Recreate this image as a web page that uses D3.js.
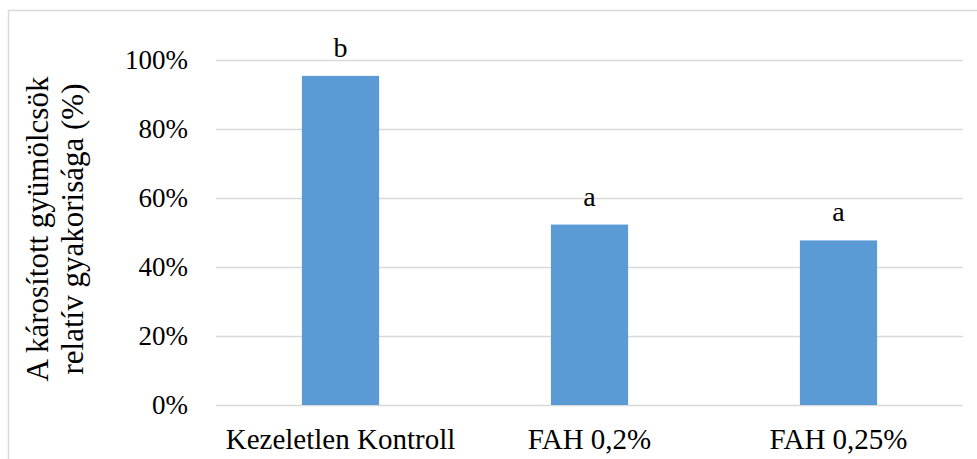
<!DOCTYPE html>
<html>
<head>
<meta charset="utf-8">
<script src="https://cdn.jsdelivr.net/npm/d3@7"></script>
<style>
  html, body { margin: 0; padding: 0; background: #fff; }
  svg { display: block; }
</style>
</head>
<body>
<svg id="chart" width="977" height="459"></svg>
<script>
// Treatments and the share of damaged fruitlets (%)
const categories = ["Kezeletlen Kontroll", "FAH 0,2%", "FAH 0,25%"];
const values = [95.4, 52.3, 47.7];
const letters = ["b", "a", "a"];
const yTicks = [0, 20, 40, 60, 80, 100];
const yTitle = ["A károsított gyümölcsök", "relatív gyakorisága (%)"];

const W = 977, H = 459;
const plot = { left: 216, right: 963, top: 60, bottom: 405 };
const serif = "'Liberation Serif', 'Times New Roman', Tinos, 'DejaVu Serif', serif";

const svg = d3.select("#chart");

// chart frame (open at right and bottom)
svg.append("rect")
  .attr("x", 8.5).attr("y", 10.5)
  .attr("width", W + 20).attr("height", H + 20)
  .attr("fill", "none")
  .attr("stroke", "#d9d9d9")
  .attr("stroke-width", 1.5);

const x = d3.scaleBand()
  .domain(categories)
  .range([plot.left, plot.right])
  .paddingInner(0.69)
  .paddingOuter(0.345);

const y = d3.scaleLinear()
  .domain([0, 100])
  .range([plot.bottom, plot.top]);

// horizontal gridlines and tick labels
const yAxis = d3.axisLeft(y)
  .tickValues(yTicks)
  .tickFormat(d => d + "%")
  .tickSize(-(plot.right - plot.left))
  .tickPadding(28);

const gy = svg.append("g")
  .attr("transform", `translate(${plot.left},0)`)
  .call(yAxis);
gy.attr("font-family", null).attr("font-size", null);
gy.select(".domain").remove();
gy.selectAll(".tick line")
  .attr("stroke", "#d9d9d9")
  .attr("stroke-width", 1.5);
gy.selectAll(".tick text")
  .style("font-family", serif)
  .style("font-size", "27px")
  .attr("fill", "#000");

// category labels
const xAxis = d3.axisBottom(x).tickSize(0).tickPadding(0);
const gx = svg.append("g")
  .attr("transform", `translate(0,${plot.bottom})`)
  .call(xAxis);
gx.attr("font-family", null).attr("font-size", null);
gx.select(".domain").remove();
gx.selectAll(".tick text")
  .style("font-family", serif)
  .style("font-size", "29px")
  .attr("fill", "#000")
  .attr("dy", null)
  .attr("y", 44);

// bars
svg.append("g")
  .selectAll("rect")
  .data(values)
  .join("rect")
  .attr("x", (d, i) => x(categories[i]))
  .attr("y", d => y(d))
  .attr("width", x.bandwidth())
  .attr("height", d => y(0) - y(d))
  .attr("fill", "#5b9bd5");

// significance letters
svg.append("g")
  .selectAll("text")
  .data(values)
  .join("text")
  .attr("x", (d, i) => x(categories[i]) + x.bandwidth() / 2)
  .attr("y", d => y(d) - 19)
  .attr("text-anchor", "middle")
  .style("font-family", serif)
  .style("font-size", "28px")
  .text((d, i) => letters[i]);

// y-axis title, two lines
const title = svg.append("text")
  .attr("transform", "translate(48,229) rotate(-90)")
  .attr("text-anchor", "middle")
  .style("font-family", serif)
  .style("font-size", "31px");
title.selectAll("tspan")
  .data(yTitle)
  .join("tspan")
  .attr("x", 0)
  .attr("dy", (d, i) => i === 0 ? 0 : 35)
  .text(d => d);
</script>
</body>
</html>
